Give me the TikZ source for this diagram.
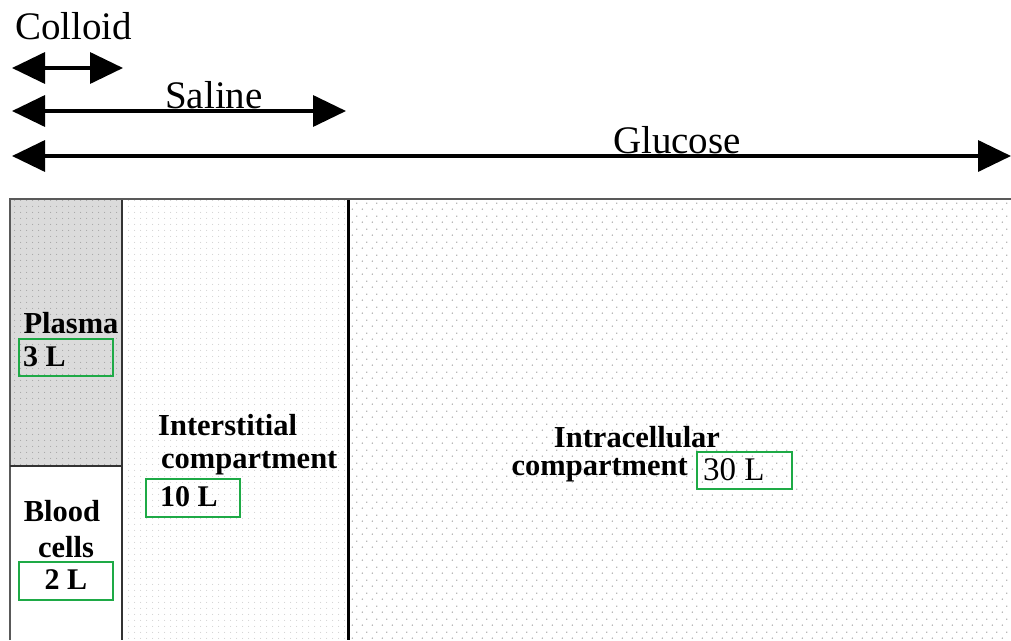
\documentclass[tikz,border=0pt]{standalone}
\usepackage{fontspec}
\setmainfont{Liberation Serif}
\usetikzlibrary{arrows.meta,patterns.meta}
\tikzdeclarepattern{
  name=bigdots, type=uncolored,
  bottom left={(0pt,0pt)}, top right={(10pt,13pt)},
  tile size={(10pt,13pt)},
  code={\pgfpathcircle{\pgfqpoint{2.5pt}{3pt}}{0.8pt}\pgfpathcircle{\pgfqpoint{7.5pt}{9.5pt}}{0.8pt}\pgfusepath{fill}}
}
\tikzdeclarepattern{
  name=finedots, type=uncolored,
  bottom left={(0pt,0pt)}, top right={(6pt,6pt)},
  tile size={(6pt,6pt)},
  code={\pgfpathcircle{\pgfqpoint{3pt}{3pt}}{0.6pt}\pgfusepath{fill}}
}
\definecolor{boxgreen}{RGB}{30,170,70}
\tikzset{
  dblarrow/.style={line width=3.5pt,{Triangle[length=33pt,width=31pt]}-{Triangle[length=33pt,width=31pt]}},
  arrowlbl/.style={font=\fontsize{39}{44}\selectfont,inner sep=0pt},
  lbl/.style={font=\fontsize{30.5}{36}\selectfont\bfseries,inner sep=0pt},
  vol/.style={draw=boxgreen,line width=2pt},
  voltxt/.style={font=\fontsize{30}{36}\selectfont\bfseries,inner sep=0pt},
}
\begin{document}
\begin{tikzpicture}[x=1pt,y=-1pt]
\useasboundingbox (0,0) rectangle (1011,640);
% regions
\fill[gray!28] (10,200) rectangle (122,466);
\fill[pattern=finedots,pattern color=gray!70] (10,200) rectangle (122,466);
\fill[pattern=finedots,pattern color=gray!35] (122,200) rectangle (348,640);
\fill[pattern=bigdots,pattern color=gray!75] (348,200) rectangle (1011,640);
\draw[gray!70!black,line width=2pt] (10,640) -- (10,199) -- (1011,199);
\draw[gray!40!black,line width=1.5pt] (10,466) -- (122,466);
\draw[gray!40!black,line width=1.5pt] (122,200) -- (122,640);
\draw[black,line width=3pt] (348,200) -- (348,640);
% arrows
\coordinate (cL) at (12,68); \coordinate (cR) at (123,68);
\coordinate (sL) at (12,111); \coordinate (sR) at (346,111);
\coordinate (gL) at (12,156); \coordinate (gR) at (1011,156);
\draw[dblarrow] (cL) -- (cR);
\draw[dblarrow] (sL) -- (sR);
\draw[dblarrow] (gL) -- (gR);
\node[arrowlbl,anchor=west] (colloid) at (15,26) {Colloid};
\node[arrowlbl] (saline) at (214,95) {Saline};
\node[arrowlbl] (glucose) at (677,140) {Glucose};
% labels
\node[lbl] (plasma) at (71,323) {Plasma};
\node[vol,minimum width=94pt,minimum height=37pt] (v3) at (66,357.5) {};
\node[voltxt,anchor=west] (t3) at (23,357) {3 L};
\node[lbl] (blood) at (62,511) {Blood};
\node[lbl] (cells) at (66,547) {cells};
\node[vol,minimum width=94pt,minimum height=38pt] (v2) at (66,581) {};
\node[voltxt] (t2) at (66,580) {2 L};
\node[lbl,anchor=west] (inter1) at (158,425) {Interstitial};
\node[lbl,anchor=west] (inter2) at (161,463) {compartment};
\node[vol,minimum width=94pt,minimum height=38pt] (v10) at (193,498) {};
\node[voltxt,anchor=west] (t10) at (160,497) {10 L};
\node[lbl] (intra1) at (637,437) {Intracellular};
\node[lbl,anchor=east] (intra2) at (688,470) {compartment};
\node[vol,minimum width=95pt,minimum height=37pt] (v30) at (744.5,470.5) {};
\node[font=\fontsize{33}{38}\selectfont,inner sep=0pt,anchor=west] (t30) at (703,470) {30 L};
\end{tikzpicture}
\end{document}
